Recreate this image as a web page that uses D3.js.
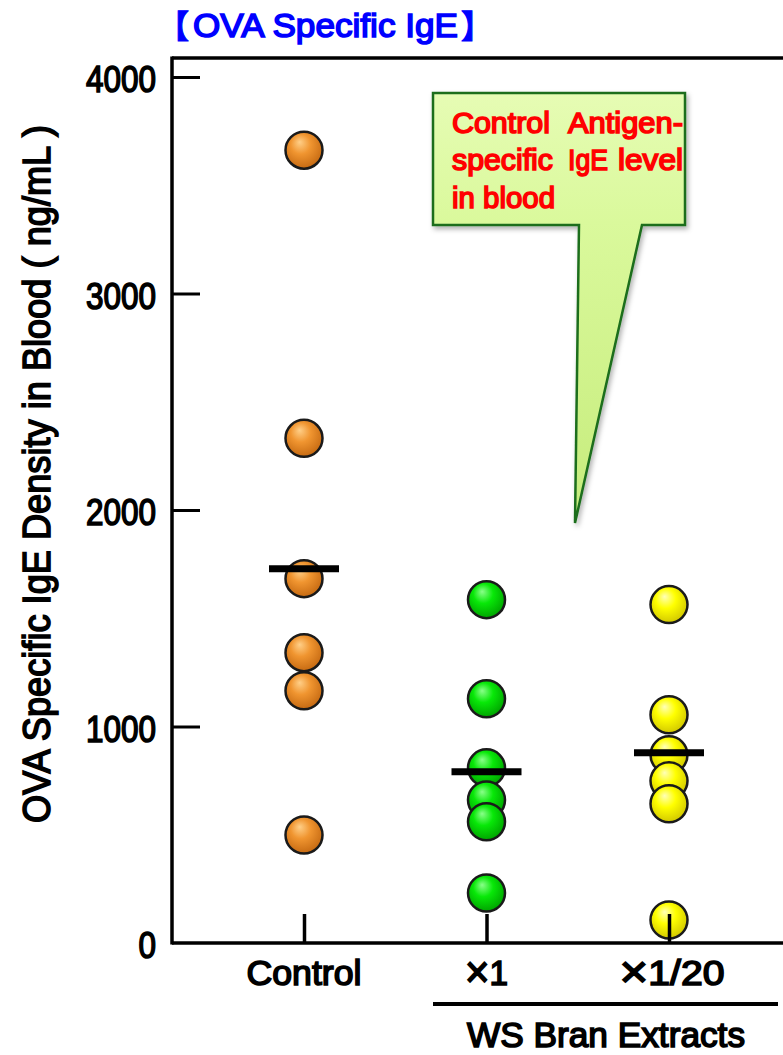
<!DOCTYPE html>
<html>
<head>
<meta charset="utf-8">
<script src="https://cdn.jsdelivr.net/npm/d3@7"></script>
<style>
  html, body { margin: 0; padding: 0; background: #fff; }
  svg { display: block; }
  text { font-family: "Liberation Sans", Arial, "Noto Sans CJK JP", sans-serif; font-weight: 400; }
  .cjk { font-family: "Noto Sans CJK JP", sans-serif; font-weight: 700; }
</style>
</head>
<body>
<svg id="chart" width="783" height="1055"></svg>
<script>
// ---- data ----
const categories = ["Control", "×1", "×1/20"];
const controlValues = [3662, 2331, 1683, 1341, 1165, 499];
const ws1Values = [1586, 1128, 809, 661, 560, 231];
const ws20Values = [1563, 1054, 869, 749, 643, 106];
const meanValues = [1729, 791, 879];
const yTicks = [0, 1000, 2000, 3000, 4000];
const groupLabel = "WS Bran Extracts";
const titleText = "OVA Specific IgE";
const titleBrackets = ["【", "】"];
const yAxisTitle = "OVA Specific IgE Density in Blood ( ng/mL )";
const calloutLines = [["Control", "Antigen-"], ["specific", "IgE", "level"], ["in blood"]];

const seriesValues = [controlValues, ws1Values, ws20Values];
const seriesColors = [
  { base: "#f09530", light: "#ffcf88", dark: "#c66a12" },
  { base: "#08e808", light: "#8aff8a", dark: "#00a400" },
  { base: "#ffff00", light: "#ffffb8", dark: "#d2c800" }
];

const svg = d3.select("#chart");
const y = d3.scaleLinear().domain([0, 4000]).range([943, 77]);
const x = d3.scalePoint().domain(categories).range([304, 669]);
const axisLeftX = 172, rightEdge = 783, topY = 58;

const defs = svg.append("defs");
seriesColors.forEach((c, i) => {
  const g = defs.append("radialGradient").attr("id", "ball" + i)
    .attr("cx", "45%").attr("cy", "40%").attr("r", "60%").attr("fx", "38%").attr("fy", "28%");
  g.append("stop").attr("offset", "0%").attr("stop-color", c.light);
  g.append("stop").attr("offset", "45%").attr("stop-color", c.base);
  g.append("stop").attr("offset", "100%").attr("stop-color", c.dark);
});
const cg = defs.append("linearGradient").attr("id", "callFill").attr("x1", 0).attr("y1", 0).attr("x2", 0).attr("y2", 1);
cg.append("stop").attr("offset", "0%").attr("stop-color", "#e6fcb4");
cg.append("stop").attr("offset", "30%").attr("stop-color", "#daf99c");
cg.append("stop").attr("offset", "100%").attr("stop-color", "#c6ec7c");
const sh = defs.append("filter").attr("id", "shadow").attr("x", "-10%").attr("y", "-10%").attr("width", "130%").attr("height", "130%");
sh.append("feDropShadow").attr("dx", 2).attr("dy", 3).attr("stdDeviation", 2.5).attr("flood-color", "#000").attr("flood-opacity", 0.3);

function label(sel, color, size, len) {
  return sel.attr("fill", color).attr("stroke", color).attr("stroke-width", 1.6)
    .attr("font-size", size).attr("textLength", len).attr("lengthAdjust", "spacingAndGlyphs");
}

// ---- title ----
label(svg.append("text").attr("x", 193).attr("y", 37), "#0000ff", 34, 265).text(titleText);
svg.append("text").attr("class", "cjk").attr("x", 157).attr("y", 38).attr("font-size", 32)
  .attr("fill", "#0000ff").attr("stroke", "#0000ff").attr("stroke-width", 1).text(titleBrackets[0]);
svg.append("text").attr("class", "cjk").attr("x", 461).attr("y", 38).attr("font-size", 32)
  .attr("fill", "#0000ff").attr("stroke", "#0000ff").attr("stroke-width", 1).text(titleBrackets[1]);

// ---- y axis title ----
label(svg.append("text").attr("transform", "translate(50,474) rotate(-90)").attr("text-anchor", "middle"),
  "#000", 38, 698).text(yAxisTitle);

// ---- frame ----
svg.append("line").attr("x1", axisLeftX).attr("x2", rightEdge).attr("y1", topY).attr("y2", topY)
  .attr("stroke", "#000").attr("stroke-width", 3.5);
svg.append("line").attr("x1", axisLeftX).attr("x2", axisLeftX).attr("y1", topY - 1.5).attr("y2", y(0) + 1.5)
  .attr("stroke", "#000").attr("stroke-width", 3.5);
svg.append("line").attr("x1", axisLeftX).attr("x2", rightEdge).attr("y1", y(0)).attr("y2", y(0))
  .attr("stroke", "#000").attr("stroke-width", 3.5);

// y ticks
const yAxis = d3.axisRight(y).tickValues(yTicks.filter(d => d > 0)).tickSize(28).tickFormat("");
const ya = svg.append("g").attr("transform", `translate(${axisLeftX},0)`).call(yAxis);
ya.select(".domain").remove();
ya.selectAll(".tick line").attr("stroke", "#000").attr("stroke-width", 3);

// y tick labels
label(svg.append("g").selectAll("text").data(yTicks).join("text")
  .attr("x", 156).attr("y", d => y(d) + 15).attr("text-anchor", "end"),
  "#000", 37, d => String(d).length * 17.5).text(d => d);

// ---- points ----
const pts = [];
seriesValues.forEach((vals, i) => vals.forEach(v => pts.push({ cat: categories[i], v, i })));
svg.append("g").selectAll("circle").data(pts).join("circle")
  .attr("cx", d => x(d.cat)).attr("cy", d => y(d.v)).attr("r", 18.5)
  .attr("fill", d => `url(#ball${d.i})`).attr("stroke", "#1a1a1a").attr("stroke-width", 2.5);

// x ticks (drawn over points)
const xAxis = d3.axisTop(x).tickSize(29).tickFormat("");
const xa = svg.append("g").attr("transform", `translate(0,${y(0)})`).call(xAxis);
xa.select(".domain").remove();
xa.selectAll(".tick line").attr("stroke", "#000").attr("stroke-width", 3.5);

// mean bars
svg.append("g").selectAll("line").data(meanValues).join("line")
  .attr("x1", (d, i) => x(categories[i]) - 35).attr("x2", (d, i) => x(categories[i]) + 35)
  .attr("y1", d => y(d)).attr("y2", d => y(d))
  .attr("stroke", "#000").attr("stroke-width", 7);

// x labels (the "×" sign drawn a little larger, as in the source)
const xLabelWidths = [115, 43, 105];
const xl = label(svg.append("g").selectAll("text").data(categories).join("text")
  .attr("x", (d, i) => x(d) + (i === 2 ? 3 : 0)).attr("y", 985).attr("text-anchor", "middle"),
  "#000", 35, (d, i) => xLabelWidths[i]);
xl.each(function (d) {
  const t = d3.select(this);
  if (d.startsWith("×")) {
    t.append("tspan").attr("font-size", 44).attr("dy", 2).text("×");
    t.append("tspan").attr("dy", -2).text(d.slice(1));
  } else {
    t.text(d);
  }
});

// group label
svg.append("line").attr("x1", 433).attr("x2", 778).attr("y1", 1004).attr("y2", 1004)
  .attr("stroke", "#000").attr("stroke-width", 4);
label(svg.append("text").attr("x", 606).attr("y", 1047).attr("text-anchor", "middle"),
  "#000", 35, 278).text(groupLabel);

// ---- callout ----
const call = svg.append("g");
call.append("path")
  .attr("d", "M433,93 H685 V225 H642 L575,523 L579,225 H433 Z")
  .attr("fill", "url(#callFill)").attr("stroke", "#1b6e1b").attr("stroke-width", 2.5)
  .attr("stroke-linejoin", "miter").attr("filter", "url(#shadow)");
const wordPos = [
  [{ x: 452, w: 98, a: "start" }, { x: 683, w: 115, a: "end" }],
  [{ x: 452, w: 101, a: "start" }, { x: 568, w: 40, a: "start" }, { x: 683, w: 65, a: "end" }],
  [{ x: 452, w: 103, a: "start" }]
];
const baselines = [133, 170, 208];
calloutLines.forEach((words, li) => {
  words.forEach((w, wi) => {
    const p = wordPos[li][wi];
    label(call.append("text").attr("x", p.x).attr("y", baselines[li]).attr("text-anchor", p.a),
      "#ff0000", 29.5, p.w).text(w);
  });
});
</script>
</body>
</html>
